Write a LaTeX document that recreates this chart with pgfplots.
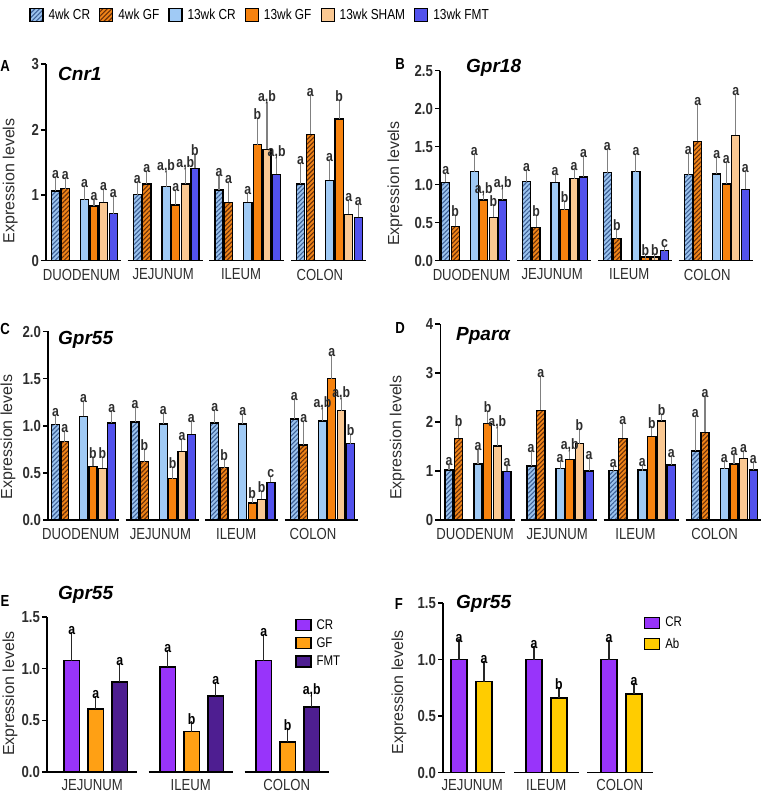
\documentclass[border=0pt]{standalone}
\usepackage{pgfplots}
\pgfplotsset{compat=1.18}
\usepackage{pgfplotstable}
\usepackage{fontspec}
\setmainfont{Liberation Sans}[FakeStretch=0.82]
\newfontfamily\plainfont{Liberation Sans}
\usetikzlibrary{patterns,patterns.meta}

\definecolor{cCRf}{RGB}{155,195,238}
\definecolor{cCRs}{RGB}{62,96,150}
\definecolor{cGFf}{RGB}{240,132,24}
\definecolor{cGFs}{RGB}{105,48,10}
\definecolor{cCR}{RGB}{160,202,245}
\definecolor{cGF}{RGB}{246,130,14}
\definecolor{cSH}{RGB}{250,200,146}
\definecolor{cFM}{RGB}{82,82,236}
\definecolor{ePu}{RGB}{152,52,250}
\definecolor{eOr}{RGB}{255,160,20}
\definecolor{eDk}{RGB}{78,30,145}
\definecolor{fYe}{RGB}{255,204,0}
\definecolor{txt}{RGB}{45,45,45}

% ---------- data ----------
\pgfplotstableread{
g y1 e1 l1 y2 e2 l2 y3 e3 l3 y4 e4 l4 y5 e5 l5 y6 e6 l6
0 1.065 0.165 a 1.10 0.12 a 0.93 0.16 a 0.835 0.065 a 0.89 0.16 a 0.72 0.22 a
1 1.01 0.15 a 1.17 0.15 a 1.13 0.19 a,b 0.85 0.18 a 1.17 0.20 a,b 1.41 0.17 b
2 1.08 0.19 a 0.89 0.27 a 0.89 0.10 a 1.77 0.36 b 1.70 0.68 a,b 1.32 0.22 a,b
3 1.17 0.28 a 1.93 0.56 a 1.23 0.26 a 2.165 0.245 b 0.71 0.17 a 0.66 0.16 a
}\dataA
\pgfplotstableread{
g y1 e1 l1 y2 e2 l2 y3 e3 l3 y4 e4 l4 y5 e5 l5 y6 e6 l6
0 1.03 0.09 a 0.45 0.11 b 1.17 0.19 a 0.80 0.04 a,b 0.57 0.13 b 0.80 0.12 a,b
1 1.04 0.12 a 0.44 0.12 b 1.03 0.07 a 0.67 0.08 b 1.08 0.09 a 1.10 0.24 a
2 1.16 0.27 a 0.29 0.09 b 1.17 0.19 a 0.05 0.005 b 0.05 0.005 b 0.13 0.02 c
3 1.13 0.25 a 1.57 0.45 a 1.14 0.19 a 1.01 0.25 a 1.65 0.50 a 0.94 0.20 a
}\dataB
\pgfplotstableread{
g y1 e1 l1 y2 e2 l2 y3 e3 l3 y4 e4 l4 y5 e5 l5 y6 e6 l6
0 1.01 0.07 a 0.83 0.08 a 1.10 0.13 a 0.57 0.07 b 0.55 0.09 b 1.03 0.10 a
1 1.04 0.13 a 0.62 0.10 b 1.02 0.08 a 0.44 0.09 b 0.73 0.10 a 0.91 0.11 a
2 1.03 0.11 a 0.555 0.065 b 1.02 0.07 a 0.18 0.03 b 0.22 0.06 b 0.40 0.04 c
3 1.07 0.18 a 0.795 0.225 a 1.05 0.11 a,b 1.50 0.22 a 1.16 0.10 a,b 0.81 0.07 b
}\dataC
\pgfplotstableread{
g y1 e1 l1 y2 e2 l2 y3 e3 l3 y4 e4 l4 y5 e5 l5 y6 e6 l6
0 1.02 0.07 a 1.67 0.21 b 1.14 0.25 a 1.97 0.19 b 1.51 0.33 a,b 0.99 0.08 a
1 1.10 0.25 a 2.24 0.64 a 1.05 0.09 a 1.24 0.13 a,b 1.56 0.23 b 1.00 0.20 a
2 1.01 0.03 a 1.67 0.25 a 1.02 0.05 a 1.71 0.14 b 2.02 0.09 b 1.12 0.12 a
3 1.41 0.66 a 1.79 0.68 a 1.05 0.09 a 1.14 0.15 a 1.26 0.09 a 1.02 0.10 a
}\dataD
\pgfplotstableread{
g y1 e1 l1 y2 e2 l2 y3 e3 l3
0 1.076 0.244 a 0.61 0.085 a 0.87 0.146 a
1 1.016 0.124 a 0.39 0.06 b 0.735 0.095 a
2 1.076 0.224 a 0.29 0.10 b 0.63 0.085 a,b
}\dataE
\pgfplotstableread{
g y1 e1 l1 y2 e2 l2
0 1.00 0.144 a 0.805 0.145 a
1 1.00 0.086 a 0.66 0.06 b
2 1.00 0.14 a 0.695 0.06 a
}\dataF

\pgfplotsset{
  panel/.style={scale only axis, anchor=south west, clip=false,
    axis y line*=left, axis x line*=bottom,
    axis line style={-, line width=1.6pt},
    x axis line style={draw=none},
    major x tick style={draw=none},
    major y tick style={line width=1.6pt, black},
    major tick length=5pt, tick align=outside,
    ymin=0,
    /pgf/number format/assume math mode=true,
    yticklabel style={font=\fontsize{16}{18}\selectfont\bfseries, text=txt, inner sep=2pt},
    xticklabel style={font=\fontsize{16}{18}\selectfont, text=txt, inner sep=1pt, anchor=north, yshift=-2pt},
    ylabel={\plainfont Expression levels},
    ylabel style={font=\fontsize{16}{18}\selectfont, text=txt},
  },
  dec/.style={yticklabel style={/pgf/number format/fixed, /pgf/number format/fixed zerofill, /pgf/number format/precision=1}},
  bar6/.style={ybar, bar shift=0pt, bar width=0.85, draw=black, line width=1.3pt,
    error bars/y dir=plus, error bars/y explicit,
    error bars/error bar style={line width=1.1pt, gray},
    error bars/error mark options={line width=1.1pt, gray, mark size=3pt},
    legend image code/.code={\draw[##1, line width=1.2pt] (0pt,-6.5pt) rectangle (13pt,6.5pt);}},
  barE/.style={ybar, bar shift=0pt, bar width=0.64, draw=black, line width=1.3pt,
    error bars/y dir=plus, error bars/y explicit,
    error bars/error bar style={line width=1.2pt, black!85},
    error bars/error mark options={line width=1.2pt, black!85, mark size=4pt},
    legend image code/.code={\draw[##1, line width=1.2pt] (0pt,-5.5pt) rectangle (15pt,5.5pt);}},
  lab/.style={draw=none, forget plot, nodes near coords, point meta=explicit symbolic,
    every node near coord/.append style={font=\fontsize{15}{16}\selectfont\bfseries, text=txt, inner sep=1pt, anchor=south}},
  labE/.style={lab, every node near coord/.append style={text=black}},
}

\newcommand{\sixbars}[1]{%
  \addplot[bar6, preaction={fill=cCRf}, pattern={Lines[angle=45,distance=3.2pt,line width=1.1pt]}, pattern color=cCRs]
    table[x expr=\thisrow{g}*8.5, y=y1, y error=e1]{#1};
  \addplot[bar6, preaction={fill=cGFf}, pattern={Lines[angle=45,distance=3.2pt,line width=1.1pt]}, pattern color=cGFs]
    table[x expr=\thisrow{g}*8.5+1, y=y2, y error=e2]{#1};
  \addplot[bar6, fill=cCR] table[x expr=\thisrow{g}*8.5+3, y=y3, y error=e3]{#1};
  \addplot[bar6, fill=cGF] table[x expr=\thisrow{g}*8.5+4, y=y4, y error=e4]{#1};
  \addplot[bar6, fill=cSH] table[x expr=\thisrow{g}*8.5+5, y=y5, y error=e5]{#1};
  \addplot[bar6, fill=cFM] table[x expr=\thisrow{g}*8.5+6, y=y6, y error=e6]{#1};
}
\newcommand{\sixlabs}[1]{%
  \addplot[lab] table[x expr=\thisrow{g}*8.5, y expr=\thisrow{y1}+\thisrow{e1}, meta=l1]{#1};
  \addplot[lab] table[x expr=\thisrow{g}*8.5+1, y expr=\thisrow{y2}+\thisrow{e2}, meta=l2]{#1};
  \addplot[lab] table[x expr=\thisrow{g}*8.5+3, y expr=\thisrow{y3}+\thisrow{e3}, meta=l3]{#1};
  \addplot[lab] table[x expr=\thisrow{g}*8.5+4, y expr=\thisrow{y4}+\thisrow{e4}, meta=l4]{#1};
  \addplot[lab] table[x expr=\thisrow{g}*8.5+5, y expr=\thisrow{y5}+\thisrow{e5}, meta=l5]{#1};
  \addplot[lab] table[x expr=\thisrow{g}*8.5+6, y expr=\thisrow{y6}+\thisrow{e6}, meta=l6]{#1};
}
\newcommand{\sixsegs}[1]{%
  \draw[line width=1.6pt] (axis cs:#1,0) -- (axis cs:6.8,0);
  \draw[line width=1.6pt] (axis cs:7.5,0) -- (axis cs:15.3,0);
  \draw[line width=1.6pt] (axis cs:16.0,0) -- (axis cs:23.8,0);
  \draw[line width=1.6pt] (axis cs:24.5,0) -- (axis cs:32.3,0);
}
\newcommand{\gene}[1]{{\plainfont\fontsize{19}{22}\selectfont\bfseries\itshape #1}}
\newcommand{\plet}[1]{{\fontsize{16}{18}\selectfont\bfseries #1}}

\begin{document}
\begin{tikzpicture}
% ---------------- A ----------------
\begin{axis}[panel, at={(46pt,534.3pt)}, width=320pt, height=196.4pt,
  xmin=-1, xmax=32.3, ymax=3, ytick={0,1,2,3},
  xtick={2.7,11.2,19.3,27.5}, xticklabels={DUODENUM,JEJUNUM,ILEUM,COLON},
  ylabel style={at={(axis description cs:-0.112,0.407)}, anchor=center},
  legend entries={4wk CR,4wk GF,13wk CR,13wk GF,13wk SHAM,13wk FMT},
  legend style={at={(0.669,1.251)}, anchor=center, legend columns=6, draw=none, fill=none,
    font=\fontsize{14.5}{16}\selectfont,
    /tikz/every odd column/.append style={column sep=3pt},
    /tikz/every even column/.append style={column sep=7pt}}]
\sixbars{\dataA}
\sixlabs{\dataA}
\sixsegs{-1}
\end{axis}
% ---------------- B ----------------
\begin{axis}[panel, dec, at={(440pt,534.3pt)}, width=312.9pt, height=190pt,
  xmin=-0.6, xmax=32.3, ymax=2.5, ytick={0,0.5,1,1.5,2,2.5},
  xtick={2.7,11.2,19.3,27.5}, xticklabels={DUODENUM,JEJUNUM,ILEUM,COLON},
  ylabel style={at={(axis description cs:-0.144,0.405)}, anchor=center}]
\sixbars{\dataB}
\sixlabs{\dataB}
\sixsegs{-0.6}
\end{axis}
% ---------------- C ----------------
\begin{axis}[panel, dec, at={(48pt,275pt)}, width=310pt, height=188.5pt,
  xmin=-0.8, xmax=32.3, ymax=2.0, ytick={0,0.5,1,1.5,2},
  xtick={2.7,11.2,19.3,27.5}, xticklabels={DUODENUM,JEJUNUM,ILEUM,COLON},
  ylabel style={at={(axis description cs:-0.129,0.44)}, anchor=center}]
\sixbars{\dataC}
\sixlabs{\dataC}
\sixsegs{-0.8}
\end{axis}
% ---------------- D ----------------
\begin{axis}[panel, at={(440.3pt,275pt)}, width=320.7pt, height=196pt,
  xmin=-0.9, xmax=32.3, ymax=4, ytick={0,1,2,3,4},
  xtick={2.7,11.2,19.3,27.5}, xticklabels={DUODENUM,JEJUNUM,ILEUM,COLON},
  ylabel style={at={(axis description cs:-0.134,0.42)}, anchor=center}]
\sixbars{\dataD}
\sixlabs{\dataD}
\sixsegs{-0.9}
\end{axis}
% ---------------- E ----------------
\begin{axis}[panel, dec, at={(47pt,23pt)}, width=282.7pt, height=155pt,
  xmin=-1.03, xmax=10.75, ymax=1.5, ytick={0,0.5,1,1.5},
  xtick={0.85,4.96,8.96}, xticklabels={JEJUNUM,ILEUM,COLON},
  xticklabel style={yshift=1pt},
  ylabel style={at={(axis description cs:-0.131,0.506)}, anchor=center},
  legend entries={CR,GF,FMT},
  legend style={at={(0.867,1.012)}, anchor=north west, draw=none, fill=none,
    font=\fontsize{14}{16}\selectfont, row sep=3pt, cells={anchor=west},
    /tikz/every odd column/.append style={column sep=3pt}}]
\addplot[barE, fill=ePu] table[x expr=\thisrow{g}*4, y=y1, y error=e1]{\dataE};
\addplot[barE, fill=eOr] table[x expr=\thisrow{g}*4+1, y=y2, y error=e2]{\dataE};
\addplot[barE, fill=eDk] table[x expr=\thisrow{g}*4+2, y=y3, y error=e3]{\dataE};
\addplot[labE] table[x expr=\thisrow{g}*4, y expr=\thisrow{y1}+\thisrow{e1}, meta=l1]{\dataE};
\addplot[labE] table[x expr=\thisrow{g}*4+1, y expr=\thisrow{y2}+\thisrow{e2}, meta=l2]{\dataE};
\addplot[labE] table[x expr=\thisrow{g}*4+2, y expr=\thisrow{y3}+\thisrow{e3}, meta=l3]{\dataE};
\draw[line width=1.6pt] (axis cs:-1.03,0) -- (axis cs:2.72,0);
\draw[line width=1.6pt] (axis cs:3.2,0) -- (axis cs:6.72,0);
\draw[line width=1.6pt] (axis cs:7.2,0) -- (axis cs:10.72,0);
\end{axis}
% ---------------- F ----------------
\begin{axis}[panel, dec, at={(443pt,22.5pt)}, width=211pt, height=169.2pt,
  xmin=-0.64, xmax=7.8, ymax=1.5, ytick={0,0.5,1,1.5},
  xtick={0.53,3.49,6.43}, xticklabels={JEJUNUM,ILEUM,COLON},
  xticklabel style={yshift=1pt},
  ylabel style={at={(axis description cs:-0.209,0.474)}, anchor=center},
  legend entries={CR,Ab},
  legend style={at={(0.938,0.944)}, anchor=north west, draw=none, fill=none,
    font=\fontsize{14}{16}\selectfont, row sep=6pt, cells={anchor=west},
    /tikz/every odd column/.append style={column sep=3pt}}]
\addplot[barE, fill=ePu] table[x expr=\thisrow{g}*3, y=y1, y error=e1]{\dataF};
\addplot[barE, fill=fYe] table[x expr=\thisrow{g}*3+1, y=y2, y error=e2]{\dataF};
\addplot[labE] table[x expr=\thisrow{g}*3, y expr=\thisrow{y1}+\thisrow{e1}, meta=l1]{\dataF};
\addplot[labE] table[x expr=\thisrow{g}*3+1, y expr=\thisrow{y2}+\thisrow{e2}, meta=l2]{\dataF};
\draw[line width=1.6pt] (axis cs:-0.64,0) -- (axis cs:1.85,0);
\draw[line width=1.6pt] (axis cs:2.2,0) -- (axis cs:4.8,0);
\draw[line width=1.6pt] (axis cs:5.12,0) -- (axis cs:7.75,0);
\end{axis}
% ---------------- panel letters and gene names ----------------
\node at (5pt,729pt) {\plet{A}};
\node at (400pt,731pt) {\plet{B}};
\node at (5pt,466pt) {\plet{C}};
\node at (400pt,467pt) {\plet{D}};
\node at (5pt,194pt) {\plet{E}};
\node at (399pt,191pt) {\plet{F}};
\node[anchor=base west, inner sep=0pt] at (58pt,714.3pt) {\gene{Cnr1}};
\node[anchor=base west, inner sep=0pt] at (466pt,722.3pt) {\gene{Gpr18}};
\node[anchor=base west, inner sep=0pt] at (58pt,450pt) {\gene{Gpr55}};
\node[anchor=base west, inner sep=0pt] at (456pt,454.3pt) {\gene{Pparα}};
\node[anchor=base west, inner sep=0pt] at (58pt,195pt) {\gene{Gpr55}};
\node[anchor=base west, inner sep=0pt] at (456pt,186.7pt) {\gene{Gpr55}};
\pgfresetboundingbox
\path (0pt,0pt) rectangle (766pt,795pt);
\end{tikzpicture}
\end{document}
